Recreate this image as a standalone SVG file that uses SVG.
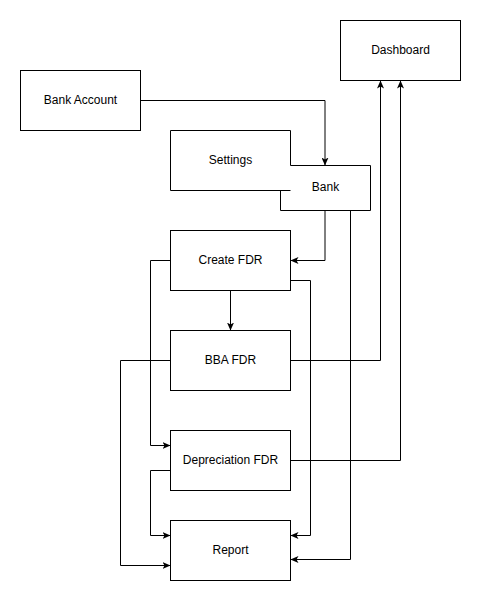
<svg xmlns="http://www.w3.org/2000/svg" width="481" height="601" viewBox="0 0 481 601">
<style>
.box{fill:#fff;stroke:#000;stroke-width:1}
.fill{fill:#fff;stroke:none}
.edge{fill:none;stroke:#000;stroke-width:1}
.lbl{font-family:"Liberation Sans",Arial,sans-serif;font-size:12px;fill:#000;text-anchor:middle;dominant-baseline:central}
</style>
<defs>
<marker id="arr" markerUnits="userSpaceOnUse" markerWidth="8" markerHeight="7" viewBox="0 0 8 7" refX="8" refY="3.5" orient="auto">
<path d="M0,0 L8,3.5 L0,7 L2,3.5 z" fill="#000"/>
</marker>
</defs>
<rect width="481" height="601" fill="#fff"/>
<g id="dashboard"><rect class="box" x="340.5" y="20.5" width="120" height="60"/><text class="lbl" x="400.5" y="49.5">Dashboard</text></g>
<g id="bank-account"><rect class="box" x="20.5" y="70.5" width="120" height="60"/><text class="lbl" x="80.5" y="99.5">Bank Account</text></g>
<g id="bank"><rect class="fill" x="280.5" y="165.5" width="90" height="45"/></g>
<g id="settings"><rect class="fill" x="170.5" y="130.5" width="120" height="60"/><path class="edge" d="M290.5,165.5 V130.5 H170.5 V190.5 H290.5"/><text class="lbl" x="230.5" y="159.5">Settings</text></g>
<g id="bank-outline"><path class="edge" d="M290.5,165.5 H370.5 V210.5 H280.5 V190.5"/><text class="lbl" x="325.5" y="187">Bank</text></g>
<g id="create-fdr"><rect class="box" x="170.5" y="230.5" width="120" height="60"/><text class="lbl" x="230.5" y="259.5">Create FDR</text></g>
<g id="bba-fdr"><rect class="box" x="170.5" y="330.5" width="120" height="60"/><text class="lbl" x="230.5" y="359.5">BBA FDR</text></g>
<g id="depreciation-fdr"><rect class="box" x="170.5" y="430.5" width="120" height="60"/><text class="lbl" x="230.5" y="459.5">Depreciation FDR</text></g>
<g id="report"><rect class="box" x="170.5" y="520.5" width="120" height="60"/><text class="lbl" x="230.5" y="549.5">Report</text></g>
<g id="connectors">
<path class="edge" d="M140.5,100.5 H325 V165.5" marker-end="url(#arr)"/>
<path class="edge" d="M325,210.5 V260.5 H290.5" marker-end="url(#arr)"/>
<path class="edge" d="M230.5,290.5 V330.5" marker-end="url(#arr)"/>
<path class="edge" d="M170.5,260.5 H150.5 V445.5 H170.5" marker-end="url(#arr)"/>
<path class="edge" d="M290.5,280.5 H310.5 V535.5 H290.5" marker-end="url(#arr)"/>
<path class="edge" d="M290.5,360.5 H380.5 V80.5" marker-end="url(#arr)"/>
<path class="edge" d="M170.5,360.5 H120.5 V565.5 H170.5" marker-end="url(#arr)"/>
<path class="edge" d="M290.5,460.5 H400.5 V80.5" marker-end="url(#arr)"/>
<path class="edge" d="M170.5,470.5 H150.5 V535.5 H170.5" marker-end="url(#arr)"/>
<path class="edge" d="M350.5,210.5 V559.5 H290.5" marker-end="url(#arr)"/>
</g>
</svg>
